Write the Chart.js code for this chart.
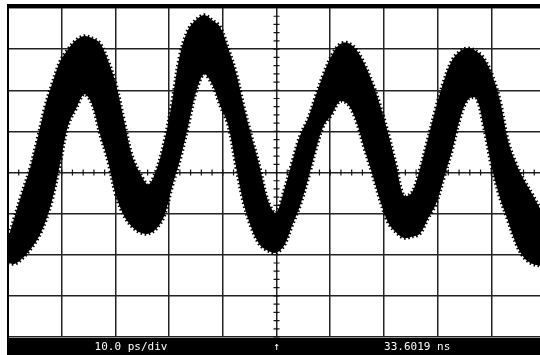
<!DOCTYPE html>
<html lang="en">
<head>
    <meta charset="UTF-8">
    <title>Sampling scope trace</title>
    <script src="https://cdn.jsdelivr.net/npm/chart.js"></script>
    <style>
        body {
            margin: 0;
            padding: 0;
            background: #fff;
            overflow: hidden;
        }
        #wrap {
            width: 540px;
            height: 355px;
            overflow: hidden;
        }
    </style>
</head>
<body>
    <div id="wrap">
        <canvas id="scope" width="546" height="355"></canvas>
    </div>

    <script>
        // time in ps (10 ps/div, 10 divisions), levels in vertical divisions (-4..4)
        const time = [0, 1.3, 2.6, 4.1, 5.6, 6.9, 8.2, 9.7, 11.2, 12.7, 14.2, 15.6, 17.1, 18.6, 20.1, 21.6, 23.1, 24.6,
            26.1, 27.6, 29.1, 30.5, 32.0, 33.5, 35.0, 36.5, 38.0, 39.5, 41.0, 42.5, 43.9, 45.4, 46.9, 48.4, 49.9, 51.4,
            52.9, 54.4, 55.9, 57.4, 58.8, 60.3, 61.8, 63.3, 64.8, 66.3, 67.8, 69.3, 70.8, 72.3, 73.7, 75.2, 76.7, 78.2,
            79.7, 81.2, 82.7, 84.2, 85.7, 87.2, 88.6, 90.1, 91.6, 93.1, 94.6, 96.1, 97.6, 99.1];

        // top edge of the noisy trace band
        const upperEdge = [-1.60, -1.05, -0.50, 0.10, 0.88, 1.60, 2.15, 2.70, 3.00, 3.22, 3.32, 3.27, 3.15, 2.73, 2.15, 1.27, 0.41, -0.02,
            -0.29, 0.05, 0.75, 1.68, 2.85, 3.46, 3.71, 3.83, 3.71, 3.54, 3.02, 2.41, 1.61, 0.85, 0.12, -0.68, -0.98, -0.44,
            0.25, 0.90, 1.32, 1.90, 2.41, 2.85, 3.12, 3.15, 3.00, 2.66, 2.20, 1.63, 0.95, 0.17, -0.56, -0.49, 0.08, 0.82,
            1.58, 2.24, 2.73, 2.95, 3.02, 2.95, 2.78, 2.39, 1.76, 0.78, 0.22, -0.18, -0.52, -0.88];

        // bottom edge of the noisy trace band
        const lowerEdge = [-2.20, -2.22, -2.10, -1.88, -1.59, -1.22, -0.68, 0.22, 1.15, 1.56, 1.90, 1.68, 0.95, 0.29, -0.56, -1.05, -1.32, -1.46,
            -1.49, -1.37, -1.05, -0.37, 0.29, 1.10, 1.95, 2.39, 2.15, 1.63, 1.15, 0.12, -0.76, -1.37, -1.76, -1.90, -1.95, -1.78,
            -1.29, -0.80, -0.15, 0.59, 1.15, 1.41, 1.73, 1.66, 1.27, 0.61, -0.02, -0.68, -1.22, -1.46, -1.59, -1.56, -1.49, -1.12,
            -0.76, -0.12, 0.54, 1.32, 1.78, 1.80, 1.10, 0.12, -0.61, -1.17, -1.73, -2.07, -2.22, -2.27];

        const timeTicks = [0, 10, 20, 30, 40, 50, 60, 70, 80, 90, 100];
        const levelTicks = [-4, -3, -2, -1, 0, 1, 2, 3, 4];
        const timeScaleLabel = '10.0 ps/div';
        const triggerMark = '\u2191';
        const positionLabel = '33.6019 ns';

        const pts = (ys) => ys.map((y, i) => ({ x: time[i], y: y }));

        // minor ticks on the centre cross, black frame and status bar
        const scopeFrame = {
            id: 'scopeFrame',
            beforeDatasetsDraw(chart) {
                const ctx = chart.ctx;
                const xs = chart.scales.x, ys = chart.scales.y;
                const cx = xs.getPixelForValue(50), cy = ys.getPixelForValue(0);
                ctx.save();
                ctx.strokeStyle = '#111';
                ctx.lineWidth = 1.2;
                ctx.beginPath();
                for (let t = 0; t <= 100; t += 2) {
                    const px = xs.getPixelForValue(t);
                    ctx.moveTo(px, cy - 3);
                    ctx.lineTo(px, cy + 3);
                }
                for (let v = -4; v <= 4; v += 0.2) {
                    const py = ys.getPixelForValue(v);
                    ctx.moveTo(cx - 3, py);
                    ctx.lineTo(cx + 3, py);
                }
                ctx.stroke();
                ctx.restore();
            },
            afterDraw(chart) {
                const ctx = chart.ctx;
                const a = chart.chartArea;
                ctx.save();
                ctx.fillStyle = '#000';
                ctx.fillRect(a.left - 1, a.top - 4, chart.width, 4);
                ctx.fillRect(a.left - 1, a.top - 4, 2, chart.height);
                ctx.fillRect(a.left - 1, a.bottom + 1, chart.width, chart.height - a.bottom);
                ctx.fillStyle = '#fff';
                ctx.font = '11px "DejaVu Sans Mono", monospace';
                ctx.textAlign = 'center';
                ctx.textBaseline = 'middle';
                const ty = (a.bottom + chart.height) / 2 + 1;
                ctx.fillText(timeScaleLabel, chart.scales.x.getPixelForValue(22.9), ty);
                ctx.fillText(triggerMark, chart.scales.x.getPixelForValue(50), ty);
                ctx.fillText(positionLabel, chart.scales.x.getPixelForValue(76.2), ty);
                ctx.restore();
            }
        };

        new Chart(document.getElementById('scope'), {
            type: 'line',
            data: {
                datasets: [{
                    label: 'upper',
                    data: pts(upperEdge),
                    borderColor: '#000',
                    borderWidth: 3.5,
                    borderDash: [1.5, 2.5],
                    tension: 0.35,
                    pointRadius: 0,
                    fill: false
                }, {
                    label: 'lower',
                    data: pts(lowerEdge),
                    borderColor: '#000',
                    borderWidth: 3.5,
                    borderDash: [1.5, 2.5],
                    backgroundColor: '#000',
                    tension: 0.35,
                    pointRadius: 0,
                    fill: '-1'
                }]
            },
            options: {
                responsive: false,
                animation: false,
                events: [],
                layout: { padding: { left: 8, top: 8, right: 1, bottom: 18 } },
                plugins: {
                    legend: { display: false },
                    tooltip: { enabled: false }
                },
                scales: {
                    x: {
                        type: 'linear',
                        min: 0,
                        max: 100,
                        afterBuildTicks: (s) => { s.ticks = timeTicks.map(v => ({ value: v })); },
                        ticks: { display: false },
                        border: { display: false },
                        grid: { color: '#222', lineWidth: 1.5, drawTicks: false }
                    },
                    y: {
                        min: -4,
                        max: 4,
                        afterBuildTicks: (s) => { s.ticks = levelTicks.map(v => ({ value: v })); },
                        ticks: { display: false },
                        border: { display: false },
                        grid: { color: '#222', lineWidth: 1.5, drawTicks: false }
                    }
                }
            },
            plugins: [scopeFrame]
        });
    </script>
</body>
</html>
